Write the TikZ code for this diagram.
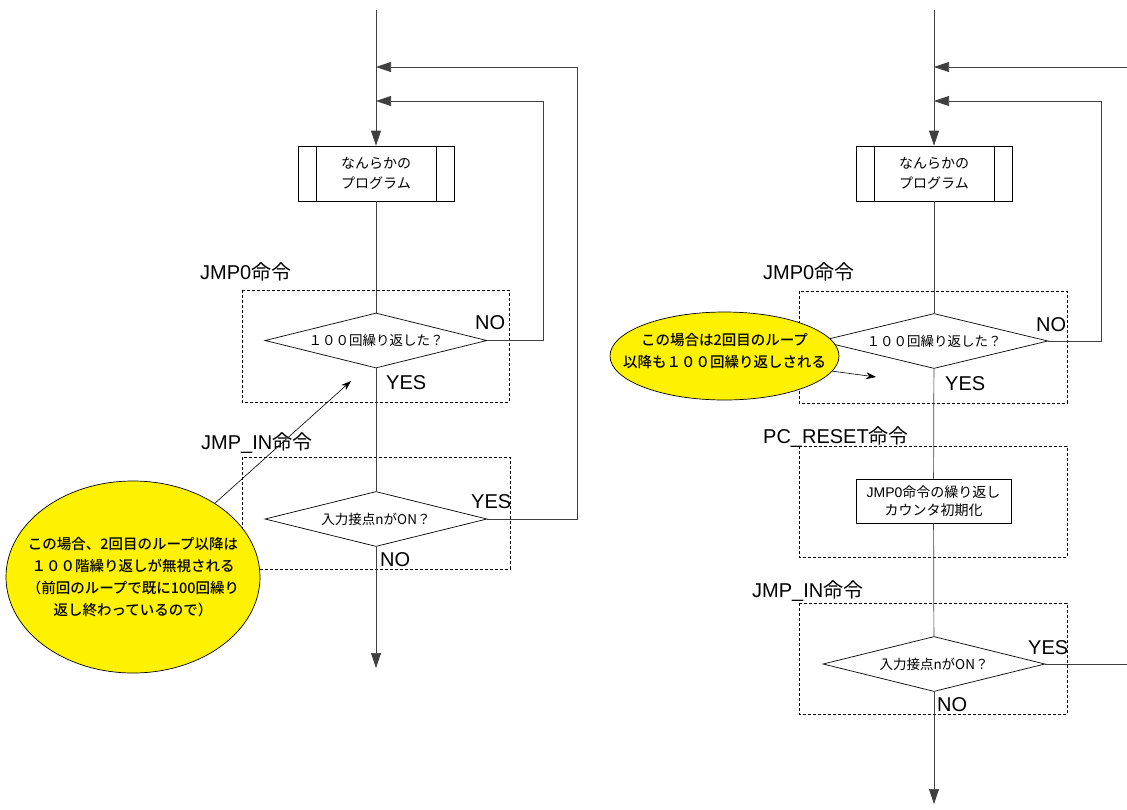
\documentclass[tikz,border=0pt]{standalone}
\usepackage{fontspec}
\setmainfont{Noto Sans CJK JP}
\newfontfamily\latfont{Liberation Sans}
\IfFontExistsTF{Noto Sans CJK JP Medium}
  {\newfontfamily\notefont{Noto Sans CJK JP Medium}}
  {\newcommand{\notefont}{\bfseries}}
\newcommand{\lat}[1]{{\latfont #1}}
\usetikzlibrary{shapes.geometric,arrows.meta}

\tikzset{
  flow/.style={draw=black!75, line width=0.7pt},
  arr/.style={flow, -{Triangle[length=15pt,width=10pt]}},
  pointer/.style={draw, line width=0.6pt, -{Stealth[length=10pt,width=7pt]}},
  progbox/.style={draw, line width=0.7pt, minimum width=156pt, minimum height=55pt,
    inner sep=0pt, align=center, font=\fontsize{14}{20}\selectfont,
    path picture={\draw[line width=0.7pt]
      ([xshift=18pt]path picture bounding box.north west) -- ([xshift=18pt]path picture bounding box.south west)
      ([xshift=-18pt]path picture bounding box.north east) -- ([xshift=-18pt]path picture bounding box.south east);}},
  decision/.style={diamond, draw, line width=0.7pt, aspect=4, inner sep=0pt,
    minimum width=222pt, minimum height=55pt, font=\fontsize{13.5}{16}\selectfont},
  procbox/.style={draw, line width=0.7pt, minimum width=155pt, minimum height=44pt,
    inner sep=0pt, align=center, font=\fontsize{14}{18}\selectfont},
  grpbox/.style={draw, line width=0.6pt, dash pattern=on 3pt off 2pt},
  grplabel/.style={anchor=west, inner sep=0pt, font=\fontsize{20}{24}\selectfont},
  yn/.style={anchor=west, inner sep=0pt, font=\latfont\fontsize{20}{24}\selectfont},
  note/.style={ellipse, draw, fill=yellow, line width=0.7pt, inner sep=0pt},
  notetext/.style={align=center, inner sep=0pt, font=\notefont\fontsize{14.5}{22}\selectfont}
}

\begin{document}
\begin{tikzpicture}[x=1pt,y=-1pt]
\useasboundingbox (0,0) rectangle (1127,809);

% left flow
\coordinate (topL) at (376,10);
\coordinate (inL1) at (376,67);
\coordinate (inL2) at (376,101);
\coordinate (bendL1) at (577,67);
\coordinate (bendL2) at (543,101);
\coordinate (endL) at (376,668);

\draw[grpbox] (242,290) rectangle (509,402);
\draw[grpbox] (242,457) rectangle (510,569);
\node[grplabel] (lblL1) at (200,272) {\lat{JMP0}命令};
\node[grplabel] (lblL2) at (201,443) {\lat{JMP\_IN}命令};

\node[progbox] (progL) at (376,173.5) {なんらかの\\プログラム};
\node[decision] (cntL) at (376,340.5) {１００回繰り返した？};
\node[decision] (inpL) at (376,519) {入力接点nがON？};

\draw[arr] (topL) -- (progL);
\draw[flow] (progL) -- (cntL);
\draw[flow] (cntL) -- (inpL);
\draw[arr] (inpL) -- (endL);
\draw[arr] (cntL.east) -| (bendL2) -- (inL2);
\draw[arr] (inpL.east) -| (bendL1) -- (inL1);

\node[yn] (noL1) at (475,323) {NO};
\node[yn] (yesL1) at (386,383) {YES};
\node[yn] (yesL2) at (471,502) {YES};
\node[yn] (noL2) at (380,560) {NO};

% right flow
\coordinate (topR) at (934,10);
\coordinate (inR1) at (934,67);
\coordinate (inR2) at (934,101);
\coordinate (edgeR1) at (1127,67);
\coordinate (bendR2) at (1101,101);
\coordinate (edgeR2) at (1127,664);
\coordinate (endR) at (934,804);

\draw[grpbox] (799,291) rectangle (1067,403);
\draw[grpbox] (799,446) rectangle (1067,557);
\draw[grpbox] (799,603) rectangle (1067,714);
\node[grplabel] (lblR1) at (763,272) {\lat{JMP0}命令};
\node[grplabel] (lblR2) at (763,437) {\lat{PC\_RESET}命令};
\node[grplabel] (lblR3) at (752,591) {\lat{JMP\_IN}命令};

\node[progbox] (progR) at (934,173.5) {なんらかの\\プログラム};
\node[decision, minimum width=228pt] (cntR) at (934,341) {１００回繰り返した？};
\node[procbox] (resetR) at (933.5,501) {\lat{JMP0}命令の繰り返し\\カウンタ初期化};
\node[decision] (inpR) at (934,664) {入力接点nがON？};

\draw[arr] (topR) -- (progR);
\draw[flow] (progR) -- (cntR);
\draw[flow] (cntR) -- (resetR);
\draw[flow] (resetR) -- (inpR);
\draw[arr] (inpR) -- (endR);
\draw[arr] (edgeR1) -- (inR1);
\draw[arr] (cntR.east) -| (bendR2) -- (inR2);
\draw[flow] (inpR.east) -- (edgeR2);

\node[yn] (noR1) at (1036,325) {NO};
\node[yn] (yesR1) at (945,384) {YES};
\node[yn] (yesR2) at (1028,648) {YES};
\node[yn] (noR2) at (937,705) {NO};

% notes
\coordinate (tipL) at (351,381);
\coordinate (tipR) at (876,377);
\node[note, minimum width=254pt, minimum height=192pt,
  label={[notetext]center:{この場合、2回目のループ以降は\\１００階繰り返しが無視される\\（前回のループで既に100回繰り\\返し終わっているので）}}] (noteL) at (133,577) {};
\node[note, minimum width=229pt, minimum height=88pt,
  label={[notetext, yshift=5pt]center:{この場合は2回目のループ\\以降も１００回繰り返しされる}}] (noteR) at (724.5,356) {};
\draw[pointer] (noteL.42) -- (tipL);
\draw[pointer] (noteR.-8) -- (tipR);

\end{tikzpicture}
\end{document}
